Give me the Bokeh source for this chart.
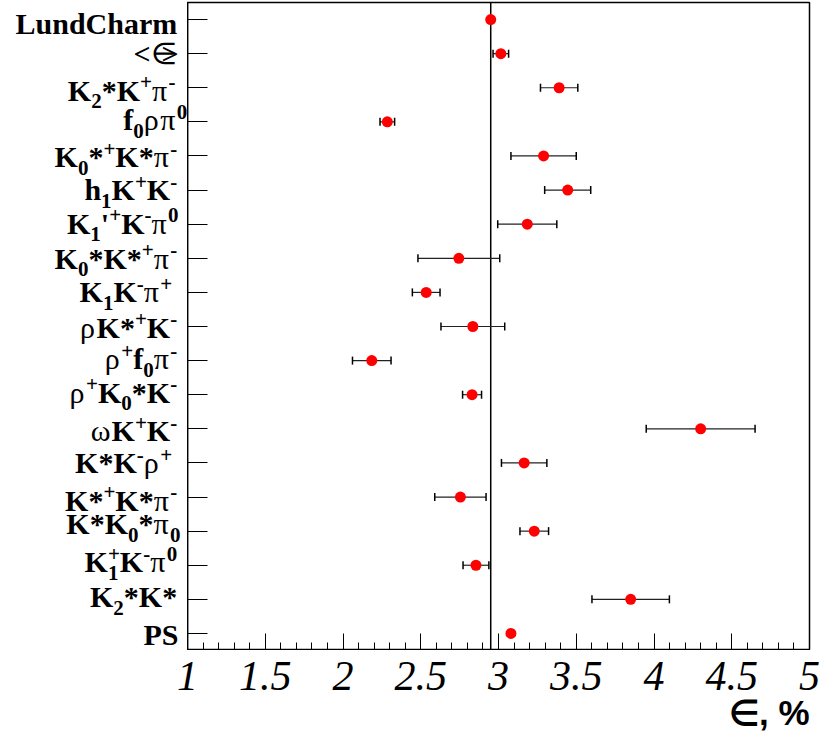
from bokeh.plotting import figure
from bokeh.layouts import column, row
from bokeh.models import (Range1d, SingleIntervalTicker, FixedTicker, NumeralTickFormatter,
                          CustomJSTickFormatter, ColumnDataSource, Whisker, TeeHead, Span)
from bokeh.core.properties import value
from bokeh.embed import file_html
from bokeh.resources import INLINE

# Decay channels (ROOT TLatex-style markup), top to bottom
channels = [
    "LundCharm", "<#in>", "K_{2}*K^{+}#pi^{-}", "f_{0}#rho#pi^{0}",
    "K_{0}*^{+}K*#pi^{-}", "h_{1}K^{+}K^{-}", "K_{1}'^{+}K^{-}#pi^{0}",
    "K_{0}*K*^{+}#pi^{-}", "K_{1}K^{-}#pi^{+}", "#rhoK*^{+}K^{-}",
    "#rho^{+}f_{0}#pi^{-}", "#rho^{+}K_{0}*K^{-}", "#omegaK^{+}K^{-}",
    "K*K^{-}#rho^{+}", "K*^{+}K*#pi^{-}", "K*K_{0}*#pi_{0}",
    "K_{1}^{+}K^{-}#pi^{0}", "K_{2}*K*", "PS",
]
# Efficiency, % and its uncertainty
efficiency = [2.95, 3.015, 3.39, 2.285, 3.29, 3.445, 3.185, 2.745, 2.535, 2.835,
              2.185, 2.83, 4.30, 3.165, 2.755, 3.23, 2.855, 3.85, 3.08]
efficiency_err = [0.0, 0.05, 0.12, 0.047, 0.21, 0.148, 0.19, 0.263, 0.089, 0.205,
                  0.124, 0.061, 0.35, 0.146, 0.165, 0.092, 0.083, 0.249, 0.0]
x_ticks_step = 0.5
x_min, x_max = 1.0, 5.0
x_title = "∈, %"
reference_value = efficiency[0]   # LundCharm

# ---- page geometry ----------------------------------------------------------
LABEL_W = 187          # width of the channel-name column
PLOT_W = 644
PLOT_H = 650
FOOT_H = 81
TOP = 2
RIGHT = 22
ANCHOR_SHIFT = 0.34    # text anchor sits about a third of an em above the baseline

# ---- composed channel labels --------------------------------------------------
MAIN_PX, SCRIPT_PX = 30, 21
SUB_DROP, SUP_RISE = 8, 11
label_right = [176.7, 178, 175, 186.7, 176.7, 176.7, 178, 176.7, 171.7, 176.7,
               176.7, 176.7, 176.7, 171.7, 176.7, 180, 176.7, 176.7, 178]
label_drop = [14, 10, 12.7, 8.3, 10.7, 10, 9.3, 10, 9.3, 10.7,
              8.3, 7.7, 12.3, 10, 13.3, 2.7, 6.7, 7.3, 11.7]

GREEK = {"omega": "ω", "rho": "ρ", "pi": "π", "in": "∈"}
W_BOLD = {"K": .778, "L": .667, "C": .722, "P": .611, "S": .556, "a": .5, "d": .556,
          "f": .333, "h": .556, "m": .833, "n": .556, "r": .444, "u": .556, "*": .5,
          "'": .278, "<": .570, ">": .570, "+": .570, "-": .333, "0": .5, "1": .5, "2": .5}
W_GREEK = {"π": .55, "ρ": .55, "ω": .69, "∈": .36}


def parse(markup):
    runs = []
    i = 0
    while i < len(markup):
        c = markup[i]
        if c in "_^":
            j = markup.index("}", i)
            txt = markup[i + 2:j]
            if c == "^" and runs and runs[-1][0] == "sub":
                runs[-1] = ("stack", runs[-1][1], txt)
            else:
                runs.append(("sub" if c == "_" else "sup", txt))
            i = j + 1
        elif c == "#":
            for name, ch in GREEK.items():
                if markup.startswith(name, i + 1):
                    runs.append(("greek", ch))
                    i += 1 + len(name)
                    break
        else:
            if runs and runs[-1][0] == "main":
                runs[-1] = ("main", runs[-1][1] + c)
            else:
                runs.append(("main", c))
            i += 1
    return runs


def width(run):
    kind = run[0]
    if kind == "main":
        return sum(W_BOLD.get(ch, .55) for ch in run[1]) * MAIN_PX
    if kind == "greek":
        return W_GREEK.get(run[1], .55) * MAIN_PX
    if kind in ("sub", "sup"):
        return sum(W_BOLD.get(ch, .5) for ch in run[1]) * SCRIPT_PX
    return max(sum(W_BOLD.get(ch, .5) for ch in t) * SCRIPT_PX for t in run[1:])


groups = {k: dict(x=[], y=[], dy=[], text=[]) for k in ("main", "greek", "script")}


def add(group, row_i, x, baseline, text, size):
    g = groups[group]
    g["x"].append(x)
    g["y"].append(row_i)
    g["dy"].append(baseline - ANCHOR_SHIFT * size)
    g["text"].append(text)


for row_i, markup in enumerate(channels):
    runs = parse(markup)
    cursor = label_right[row_i] - sum(width(r) for r in runs)
    base = label_drop[row_i]
    for r in runs:
        if r[0] == "main":
            add("main", row_i, cursor, base, r[1], MAIN_PX)
        elif r[0] == "greek":
            add("greek", row_i, cursor, base, r[1], MAIN_PX)
        elif r[0] == "sub":
            add("script", row_i, cursor, base + SUB_DROP, r[1], SCRIPT_PX)
        elif r[0] == "sup":
            add("script", row_i, cursor, base - SUP_RISE, r[1], SCRIPT_PX)
        else:
            add("script", row_i, cursor, base + SUB_DROP, r[1], SCRIPT_PX)
            add("script", row_i, cursor, base - SUP_RISE, r[2], SCRIPT_PX)
        cursor += width(r)

rows = list(range(len(channels)))
y_range = Range1d(len(channels) - 0.5, -0.5)
x_range = Range1d(x_min, x_max)


def bare(fig):
    fig.background_fill_color = "white"
    fig.border_fill_color = "white"
    fig.xgrid.visible = False
    fig.ygrid.visible = False
    return fig


# ---- channel name column ----------------------------------------------------------
names = bare(figure(width=LABEL_W, height=PLOT_H, x_range=Range1d(0, LABEL_W), y_range=y_range,
                    x_axis_type=None, y_axis_type=None, output_backend="svg",
                    toolbar_location=None, min_border_left=0, min_border_right=0,
                    min_border_top=TOP, min_border_bottom=0))
names.outline_line_color = None
styles = {
    "main": dict(text_font=value("Liberation Serif"), text_font_style="bold",
                 text_font_size=f"{MAIN_PX}px"),
    "greek": dict(text_font=value("Liberation Serif"), text_font_style="normal",
                  text_font_size=f"{MAIN_PX}px"),
    "script": dict(text_font=value("Liberation Serif"), text_font_style="bold",
                   text_font_size=f"{SCRIPT_PX}px"),
}
for gname, g in groups.items():
    names.text(x="x", y="y", text="text", y_offset="dy", source=ColumnDataSource(g),
               text_align="left", text_baseline="alphabetic", text_color="black",
               **styles[gname])

# ---- efficiency plot ------------------------------------------------------------
p = bare(figure(width=PLOT_W, height=PLOT_H, x_range=x_range, y_range=y_range,
                output_backend="svg", toolbar_location=None, min_border_left=0,
                min_border_right=RIGHT, min_border_top=TOP, min_border_bottom=0))
p.outline_line_color = "black"
p.outline_line_width = 1.5

xa = p.xaxis[0]
xa.ticker = SingleIntervalTicker(interval=x_ticks_step, num_minor_ticks=5)
xa.formatter = CustomJSTickFormatter(code="return ''")
xa.major_tick_in, xa.major_tick_out = 17, 0
xa.minor_tick_in, xa.minor_tick_out = 8, 0
xa.axis_line_width = 1.5
xa.major_label_text_font_size = "0px"
xa.major_label_standoff = 0

ya = p.yaxis[0]
ya.ticker = FixedTicker(ticks=rows, minor_ticks=[])
ya.formatter = CustomJSTickFormatter(code="return ''")
ya.major_tick_in, ya.major_tick_out = 20, 0
ya.minor_tick_in, ya.minor_tick_out = 0, 0
ya.axis_line_width = 1.5
ya.major_label_text_font_size = "0px"
ya.major_label_standoff = 0

p.add_layout(Span(location=reference_value, dimension="height", line_color="black",
                  line_width=1.5, level="underlay"))

has_err = [i for i, e in enumerate(efficiency_err) if e > 0]
err_src = ColumnDataSource(dict(
    y=[rows[i] for i in has_err],
    lo=[efficiency[i] - efficiency_err[i] for i in has_err],
    hi=[efficiency[i] + efficiency_err[i] for i in has_err],
))
p.add_layout(Whisker(source=err_src, base="y", lower="lo", upper="hi", dimension="width",
                     line_color="#222222", line_width=1.2, level="underlay",
                     upper_head=TeeHead(size=8, line_color="black", line_width=1.5),
                     lower_head=TeeHead(size=8, line_color="black", line_width=1.5)))

p.scatter("x", "y", source=ColumnDataSource(dict(x=efficiency, y=rows)), size=11,
          fill_color="#ff0000", line_color=None)

# ---- x tick labels and axis title ------------------------------------------------
foot = bare(figure(width=LABEL_W + PLOT_W, height=FOOT_H, x_range=x_range,
                   y_range=Range1d(0, 1), x_axis_location="above", y_axis_type=None,
                   output_backend="svg", toolbar_location=None, min_border_left=LABEL_W,
                   min_border_right=RIGHT, min_border_top=47, min_border_bottom=0))
foot.outline_line_color = None
fa = foot.xaxis[0]
fa.ticker = SingleIntervalTicker(interval=x_ticks_step, num_minor_ticks=5)
fa.formatter = NumeralTickFormatter(format="0.[0]")
fa.major_tick_in = fa.major_tick_out = 0
fa.minor_tick_in = fa.minor_tick_out = 0
fa.axis_line_color = None
fa.major_label_text_font = "Liberation Serif"
fa.major_label_text_font_style = "italic"
fa.major_label_text_font_size = "42px"
fa.major_label_text_color = "black"
fa.major_label_standoff = 8

TITLE_PX = 35
foot.text(x=[x_max], y=[0], text=[x_title], y_offset=-7 - ANCHOR_SHIFT * TITLE_PX,
          text_align="right", text_baseline="alphabetic",
          text_font=value("Liberation Sans"), text_font_style="bold",
          text_font_size=f"{TITLE_PX}px", text_color="black")

layout = column(row(names, p), foot)
open("out.html", "w").write(file_html(layout, INLINE))
